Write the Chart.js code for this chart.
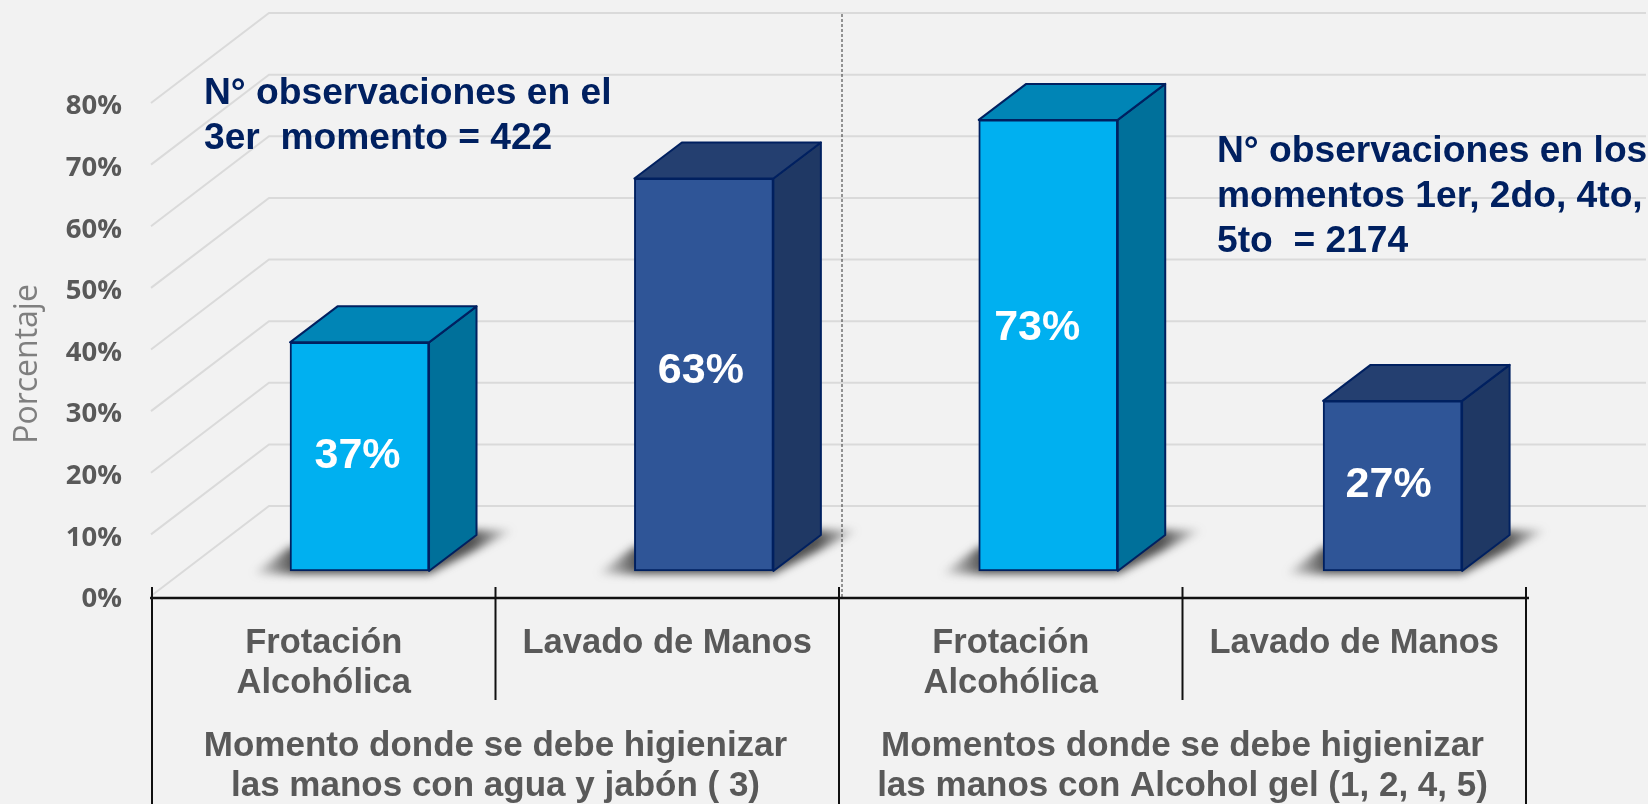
<!DOCTYPE html>
<html>
<head>
<meta charset="utf-8">
<style>
  html, body { margin: 0; padding: 0; background: #f2f2f2; }
  canvas { display: block; }
</style>
<script src="https://cdn.jsdelivr.net/npm/chart.js@4/dist/chart.umd.js"></script>
</head>
<body>
<canvas id="chart" width="1648" height="804"></canvas>
<script>
const categories = [['Frotación', 'Alcohólica'], 'Lavado de Manos', ['Frotación', 'Alcohólica'], 'Lavado de Manos'];
const groupLabels = [
  ['Momento donde se debe higienizar', 'las manos con agua y jabón ( 3)'],
  ['Momentos donde se debe higienizar', 'las manos con Alcohol gel (1, 2, 4, 5)']
];
const values = [37.1, 63.7, 73.2, 27.6];
const valueLabels = ['37%', '63%', '73%', '27%'];
const noteLeft = ['N° observaciones en el', '3er  momento = 422'];
const noteRight = ['N° observaciones en los', 'momentos 1er, 2do, 4to,', '5to  = 2174'];

const ink = '#595959';
const navy = '#002060';
const frontColors = ['#00b0f0', '#2f5597', '#00b0f0', '#2f5597'];
const sideColors = ['#00709a', '#1f3864', '#00709a', '#1f3864'];
const topColors = ['#0085b6', '#243f70', '#0085b6', '#243f70'];

// depth of the fake 3D box and of the back wall
const barDepth = { x: 47.5, y: 36 };
const wallDepth = { x: 118, y: 90 };
// hand placed in the original, not centred in the bars
const labelNudge = [[-2, -1], [-3, -4], [-11, -17], [-4, -1]];

function poly(ctx, pts, fill, stroke) {
  ctx.beginPath();
  pts.forEach((p, i) => i ? ctx.lineTo(p[0], p[1]) : ctx.moveTo(p[0], p[1]));
  ctx.closePath();
  if (fill) { ctx.fillStyle = fill; ctx.fill(); }
  if (stroke) { ctx.strokeStyle = stroke; ctx.lineWidth = 2; ctx.lineJoin = 'round'; ctx.stroke(); }
}

function textLines(ctx, lines, x, y, step, font, color, align) {
  ctx.font = font;
  ctx.fillStyle = color;
  ctx.textAlign = align;
  ctx.textBaseline = 'alphabetic';
  lines.forEach((line, i) => ctx.fillText(line, x, y + i * step));
}

const walls = {
  id: 'walls',
  beforeDatasetsDraw(chart) {
    const { ctx, scales: { y } } = chart;
    ctx.save();
    ctx.strokeStyle = '#dadada';
    ctx.lineWidth = 2;
    y.ticks.forEach(t => {
      const py = y.getPixelForValue(t.value) - 3.5;
      const fx = 151;
      const bx = fx + wallDepth.x;
      ctx.beginPath();
      ctx.moveTo(fx, py);
      ctx.lineTo(bx, py - wallDepth.y);
      ctx.lineTo(1646, py - wallDepth.y);
      ctx.stroke();
    });
    // floor shadows
    chart.getDatasetMeta(0).data.forEach(bar => {
      const l = bar.x - bar.width / 2, r = bar.x + bar.width / 2, b = bar.base;
      const dx = barDepth.x, dy = barDepth.y;
      const fade = ctx.createLinearGradient(l - 38, 0, r + dx + 38, 0);
      fade.addColorStop(0, 'rgba(80,80,80,0)');
      fade.addColorStop(0.16, 'rgba(80,80,80,1)');
      fade.addColorStop(0.84, 'rgba(80,80,80,1)');
      fade.addColorStop(1, 'rgba(80,80,80,0)');
      ctx.save();
      ctx.filter = 'blur(4px)';
      poly(ctx, [[l - 38, b + 3], [r, b + 3], [r + dx + 38, b - dy - 5], [r + dx, b - dy - 5], [l, b - 24]], fade);
      ctx.restore();
    });
    ctx.restore();
  }
};

const boxes = {
  id: 'boxes',
  afterDatasetsDraw(chart) {
    const { ctx } = chart;
    ctx.save();
    chart.getDatasetMeta(0).data.forEach((bar, i) => {
      const l = bar.x - bar.width / 2, r = bar.x + bar.width / 2, t = bar.y, b = bar.base;
      const dx = barDepth.x, dy = barDepth.y;
      poly(ctx, [[r, t], [r + dx, t - dy], [r + dx, b - dy], [r, b]], sideColors[i], navy);
      poly(ctx, [[l, t], [l + dx, t - dy], [r + dx, t - dy], [r, t]], topColors[i], navy);
      const mid = (t + b) / 2;
      ctx.font = 'bold 43px "Liberation Sans"';
      ctx.fillStyle = '#ffffff';
      ctx.textAlign = 'center';
      ctx.textBaseline = 'middle';
      ctx.fillText(valueLabels[i], bar.x + labelNudge[i][0], mid + labelNudge[i][1]);
    });
    ctx.restore();
  }
};

const frame = {
  id: 'frame',
  afterDraw(chart) {
    const { ctx, scales: { x, y } } = chart;
    const axisY = y.getPixelForValue(0) - 1.5;
    const step = (x.right - x.left) / categories.length;
    ctx.save();

    // dotted divider between the two groups
    ctx.strokeStyle = '#333333';
    ctx.lineWidth = 1;
    ctx.setLineDash([3, 2]);
    ctx.beginPath();
    ctx.moveTo(842, 14);
    ctx.lineTo(842, axisY);
    ctx.stroke();
    ctx.setLineDash([]);

    // category axis with its separators
    ctx.strokeStyle = '#111111';
    ctx.lineWidth = 2.5;
    ctx.beginPath();
    ctx.moveTo(x.left - 2, axisY);
    ctx.lineTo(x.right + 3, axisY);
    ctx.stroke();
    ctx.lineWidth = 2;
    for (let i = 0; i <= categories.length; i++) {
      const px = x.left + i * step;
      ctx.beginPath();
      ctx.moveTo(px, axisY - 11);
      ctx.lineTo(px, i % 2 ? 700 : 804);
      ctx.stroke();
    }

    // group captions
    groupLabels.forEach((lines, g) => {
      const cx = x.left + (g * 2 + 1) * step;
      textLines(ctx, lines, cx, 756, 40, 'bold 35px "Liberation Sans"', ink, 'center');
    });

    textLines(ctx, noteLeft, 204, 104, 44.5, 'bold 37.2px "Liberation Sans"', navy, 'left');
    textLines(ctx, noteRight, 1217, 162, 45, 'bold 37.2px "Liberation Sans"', navy, 'left');

    // y axis caption
    ctx.translate(37, 364);
    ctx.rotate(-Math.PI / 2);
    textLines(ctx, ['Porcentaje'], 0, 0, 0, '32px "Open Sans"', '#7f7f7f', 'center');
    ctx.restore();
  }
};

new Chart(document.getElementById('chart'), {
  type: 'bar',
  data: {
    labels: categories,
    datasets: [{
      data: values.map((v, i) => ({ x: i, y: v })),
      xAxisID: 'xBars',
      yAxisID: 'yBars',
      backgroundColor: frontColors,
      borderColor: navy,
      borderWidth: 2,
      borderSkipped: false,
      barThickness: 139
    }]
  },
  options: {
    responsive: false,
    animation: false,
    layout: { padding: { top: 106.5, right: 122, left: 0, bottom: 0 } },
    plugins: { legend: { display: false }, tooltip: { enabled: false } },
    scales: {
      x: {
        type: 'category',
        offset: true,
        grid: { display: false },
        border: { display: false },
        afterFit: s => { s.height = 204.5; },
        ticks: {
          color: ink,
          padding: 16,
          maxRotation: 0,
          autoSkip: false,
          font: { family: '"Liberation Sans"', size: 34.5, weight: 'bold', lineHeight: 1.16 }
        }
      },
      y: {
        min: 0,
        max: 80,
        grid: { display: false },
        border: { display: false },
        afterFit: s => { s.width = 152; },
        ticks: {
          stepSize: 10,
          color: ink,
          padding: 22,
          callback: v => v + '%',
          font: { family: '"Open Sans"', size: 27.5, weight: 'bold' }
        }
      },
      // bars stand on the floor, forward of the wall, so they get their own hidden scales
      xBars: { type: 'linear', axis: 'x', display: false, offset: false, min: -0.6026, max: 3.3874 },
      yBars: { type: 'linear', axis: 'y', display: false, min: -4.625, max: 75.375 }
    }
  },
  plugins: [walls, boxes, frame]
});
</script>
</body>
</html>
